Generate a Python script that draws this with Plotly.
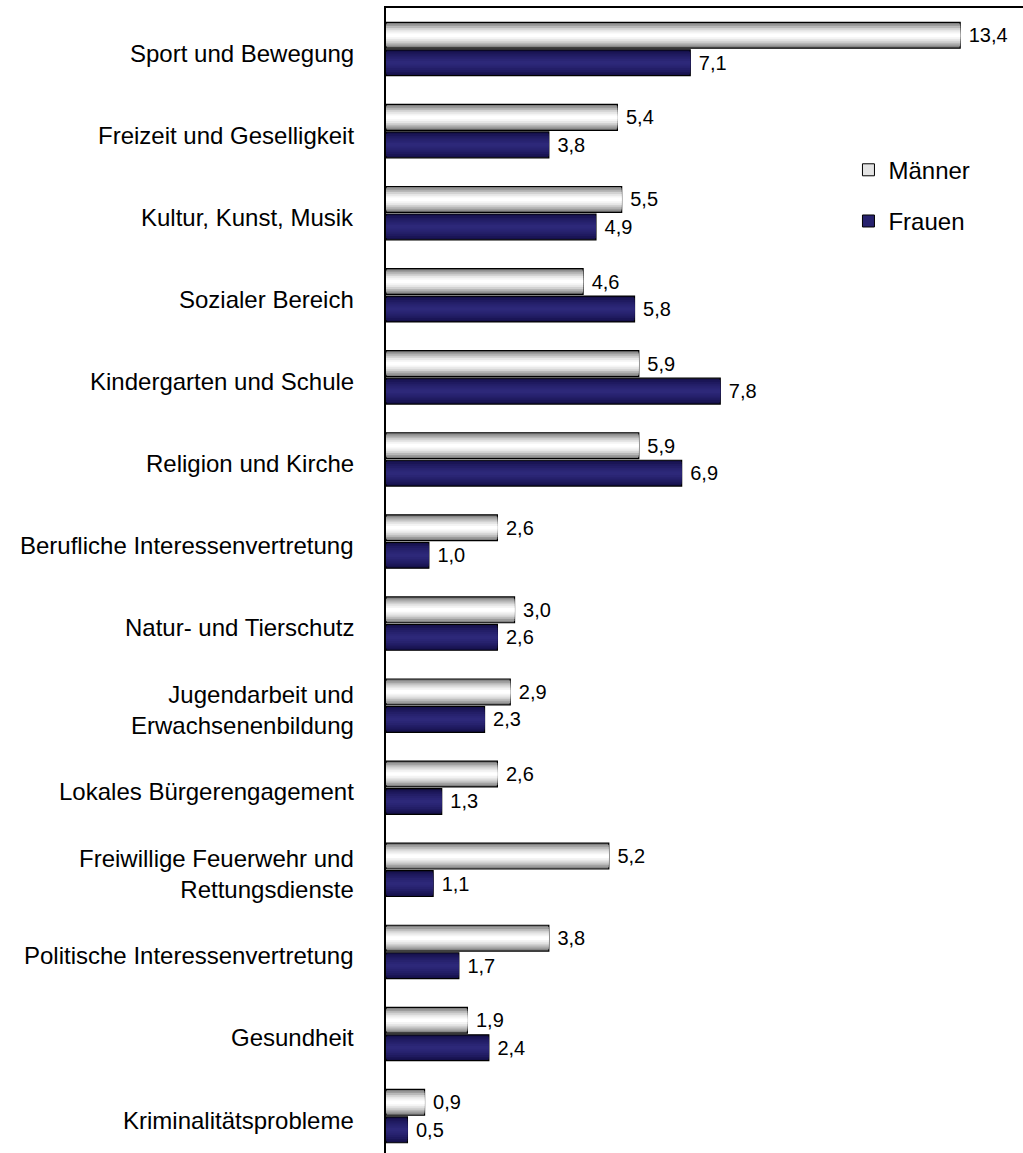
import plotly.graph_objects as go

# Ehrenamtliches Engagement nach Bereichen, Anteile in Prozent
categories = [
    "Sport und Bewegung",
    "Freizeit und Geselligkeit",
    "Kultur, Kunst, Musik",
    "Sozialer Bereich",
    "Kindergarten und Schule",
    "Religion und Kirche",
    "Berufliche Interessenvertretung",
    "Natur- und Tierschutz",
    "Jugendarbeit und<br>Erwachsenenbildung",
    "Lokales Bürgerengagement",
    "Freiwillige Feuerwehr und<br>Rettungsdienste",
    "Politische Interessenvertretung",
    "Gesundheit",
    "Kriminalitätsprobleme",
]
maenner = [13.4, 5.4, 5.5, 4.6, 5.9, 5.9, 2.6, 3.0, 2.9, 2.6, 5.2, 3.8, 1.9, 0.9]
frauen = [7.1, 3.8, 4.9, 5.8, 7.8, 6.9, 1.0, 2.6, 2.3, 1.3, 1.1, 1.7, 2.4, 0.5]

FONT = "Liberation Sans, Arial, sans-serif"

# shading bands from the bar edge towards the centre (cylinder look)
grey_bands = ["#808080", "#9c9c9c", "#b8b8b8", "#d2d2d2", "#e6e6e6", "#f4f4f4", "#ffffff"]
navy_bands = ["#15104a", "#1a1555", "#1f1a5f", "#231e67", "#27226e", "#2a2574", "#2d2879"]

BAR_W = 0.315


def fmt(v):
    return " " + f"{v:.1f}".replace(".", ",")


fig = go.Figure()


def add_series(values, bands, offset):
    n = len(bands)
    centre = offset + BAR_W / 2
    for i, col in enumerate(bands):
        w = BAR_W * (1 - i / n)
        outer = i == 0
        fig.add_trace(go.Bar(
            x=values,
            y=categories,
            orientation="h",
            width=w,
            offset=centre - w / 2,
            marker=dict(color=col,
                        line=dict(color="#000000", width=1.2 if outer else 0)),
            text=[fmt(v) for v in values] if outer else None,
            textposition="outside" if outer else None,
            textfont=dict(family=FONT, size=20, color="#000000"),
            constraintext="none",
            cliponaxis=False,
            showlegend=False,
            hoverinfo="skip" if not outer else "x+y",
        ))


add_series(maenner, grey_bands, -0.325)
add_series(frauen, navy_bands, 0.01)

# legend entries
fig.add_trace(go.Bar(x=[None], y=[categories[0]], orientation="h", name="Männer",
                     legendgroup="m",
                     marker=dict(color="#e4e4e4", line=dict(color="#000000", width=1))))
fig.add_trace(go.Bar(x=[None], y=[categories[0]], orientation="h", name="Frauen",
                     legendgroup="f",
                     marker=dict(color="#27226e", line=dict(color="#000000", width=1))))

# category labels, right aligned next to the axis
for c in categories:
    fig.add_annotation(
        x=0, xref="paper", y=c, yref="y",
        text=c, showarrow=False, xanchor="right", yanchor="middle",
        align="right", xshift=-30, yshift=-4,
        font=dict(family=FONT, size=24, color="#000000"),
    )

fig.update_layout(
    width=1023,
    height=1153,
    margin=dict(l=386, r=0, t=8, b=0),
    barmode="overlay",
    plot_bgcolor="#ffffff",
    paper_bgcolor="#ffffff",
    font=dict(family=FONT, color="#000000"),
    legend=dict(
        x=0.726, y=0.878, xanchor="left", yanchor="top",
        font=dict(family=FONT, size=24),
        traceorder="grouped", tracegroupgap=17,
        bgcolor="rgba(0,0,0,0)",
    ),
    xaxis=dict(
        range=[0, 14.866], side="top",
        showline=True, linecolor="#000000", linewidth=1.5,
        showgrid=False, zeroline=False, showticklabels=False, ticks="",
    ),
    yaxis=dict(
        range=[13.45, -0.5],
        showline=True, linecolor="#000000", linewidth=1.5,
        showgrid=False, zeroline=False, showticklabels=False, ticks="",
    ),
)

fig.write_html("out.html")
